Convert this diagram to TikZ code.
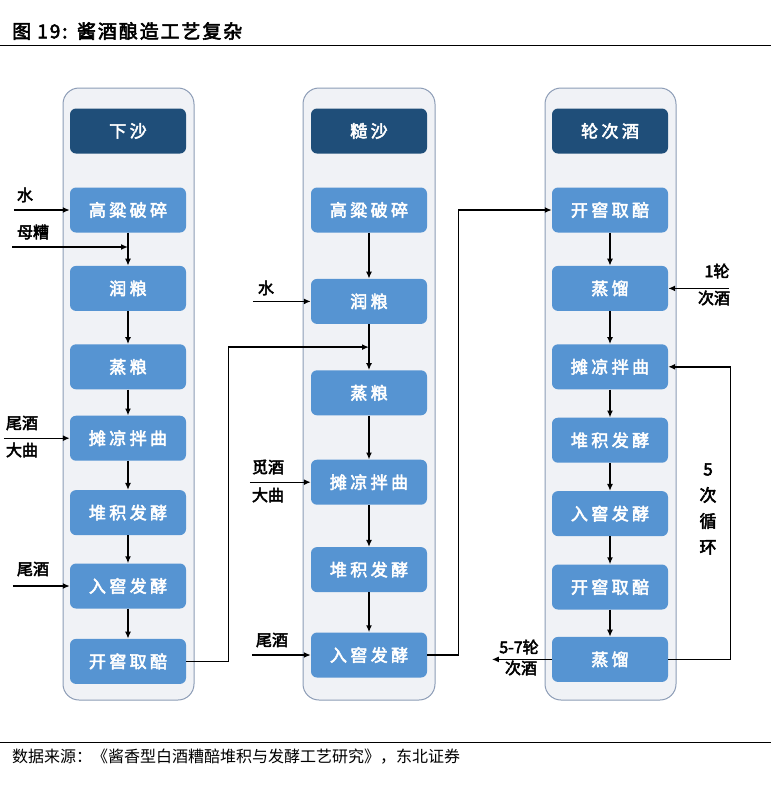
\documentclass[tikz,border=0pt]{standalone}
\usepackage{fontspec}
\usepackage{tikz}
\usetikzlibrary{arrows.meta, positioning, calc}

\newfontfamily\cjk{Noto Sans CJK SC}
\newfontfamily\cjkbold{Noto Sans CJK SC}[FakeBold=3]
\newfontfamily\cjktitle{Noto Sans CJK SC}[FakeBold=3,LetterSpace=10]
\newfontfamily\cjkbox{Noto Sans CJK SC}[FakeBold=3,LetterSpace=20]

\definecolor{colbg}{RGB}{240,242,246}
\definecolor{colline}{RGB}{140,156,182}
\definecolor{hdrblue}{RGB}{31,78,121}
\definecolor{stepblue}{RGB}{86,148,210}

\begin{document}
\begin{tikzpicture}[
    x=1pt, y=-1pt,
    >={Latex[length=7pt,width=6pt]},
    column/.style={draw=colline, fill=colbg, line width=1pt, rounded corners=16pt},
    header/.style={
        rectangle, rounded corners=6pt, fill=hdrblue, inner sep=0pt,
        minimum width=116pt, minimum height=45pt, align=center,
        text=white, font=\cjkbox\fontsize{17}{20}\selectfont
    },
    stepbox/.style={
        rectangle, rounded corners=6pt, fill=stepblue, inner sep=0pt,
        minimum width=116pt, minimum height=45pt, align=center,
        text=white, font=\cjkbox\fontsize{17}{20}\selectfont
    },
    arrow/.style={->, line width=1.4pt, black},
    inlabel/.style={font=\cjkbold\fontsize{16}{18}\selectfont, inner sep=0pt, align=center},
]
\useasboundingbox (0,0) rectangle (771,788);

% Title and rules
\node[anchor=west, font=\cjktitle\fontsize{19}{21}\selectfont, inner sep=0pt] (title) at (12,31) {图 19:\enspace 酱酒酿造工艺复杂};
\draw[line width=1pt] (0,45) -- (771,45);
\draw[line width=0.8pt] (0,742) -- (771,742);
\node[anchor=west, font=\cjk\fontsize{16}{18}\selectfont, inner sep=0pt] (source) at (12,757) {数据来源：《酱香型白酒糟醅堆积与发酵工艺研究》，东北证券};

% Column backgrounds
\draw[column] (63,88) rectangle (194,700);
\draw[column] (303,88) rectangle (435,700);
\draw[column] (545,88) rectangle (676,700);

% Column 1: 下沙
\node[header] (hdr1) at (128,131) {下沙};
\node[stepbox] (a1) at (128,210) {高粱破碎};
\node[stepbox, below=33pt of a1] (a2) {润粮};
\node[stepbox, below=33pt of a2] (a3) {蒸粮};
\node[stepbox, below=26pt of a3] (a4) {摊凉拌曲};
\node[stepbox, below=29pt of a4] (a5) {堆积发酵};
\node[stepbox, below=28pt of a5] (a6) {入窖发酵};
\node[stepbox, below=30pt of a6] (a7) {开窖取醅};

% Column 2: 糙沙
\node[header] (hdr2) at (369,131) {糙沙};
\node[stepbox] (b1) at (369,210) {高粱破碎};
\node[stepbox, below=46pt of b1] (b2) {润粮};
\node[stepbox, below=46pt of b2] (b3) {蒸粮};
\node[stepbox, below=44pt of b3] (b4) {摊凉拌曲};
\node[stepbox, below=42pt of b4] (b5) {堆积发酵};
\node[stepbox, below=40pt of b5] (b6) {入窖发酵};

% Column 3: 轮次酒
\node[header] (hdr3) at (610,131) {轮次酒};
\node[stepbox] (c1) at (610,210) {开窖取醅};
\node[stepbox, below=33pt of c1] (c2) {蒸馏};
\node[stepbox, below=33pt of c2] (c3) {摊凉拌曲};
\node[stepbox, below=28pt of c3] (c4) {堆积发酵};
\node[stepbox, below=28pt of c4] (c5) {入窖发酵};
\node[stepbox, below=28pt of c5] (c6) {开窖取醅};
\node[stepbox, below=27pt of c6] (c7) {蒸馏};

% Arrows inside the columns
\foreach \u/\v in {a1/a2, a2/a3, a3/a4, a4/a5, a5/a6, a6/a7,
                   b1/b2, b2/b3, b3/b4, b4/b5, b5/b6,
                   c1/c2, c2/c3, c3/c4, c4/c5, c5/c6, c6/c7}
    \draw[arrow] (\u) -- (\v);

% Inputs of column 1
\coordinate[left=56pt of a1.west] (w1);
\node[inlabel] (lw1) at (25,195) {水};
\draw[arrow] (w1) -- (a1.west);
\coordinate (m1) at (12,247);
\node[inlabel] (lm1) at (33,232) {母糟};
\draw[arrow] (m1) -- (m1 -| a1.center);
\coordinate[left=66pt of a4.west] (t1);
\node[inlabel] (lt1) at (22,423) {尾酒};
\node[inlabel] (ld1) at (22,450) {大曲};
\draw[arrow] (t1) -- (a4.west);
\coordinate[left=57pt of a6.west] (t2);
\node[inlabel] (lt2) at (33,569) {尾酒};
\draw[arrow] (t2) -- (a6.west);

% Column 1 to column 2
\coordinate (j1) at ($(b2.south)!0.5!(b3.north)$);
\draw[arrow] (a7.east) -- ++(42,0) |- (j1);

% Inputs of column 2
\coordinate[left=58pt of b2.west] (w2);
\node[inlabel] (lw2) at (266,288) {水};
\draw[arrow] (w2) -- (b2.west);
\coordinate[left=61pt of b4.west] (k2);
\node[inlabel] (lk2) at (268,467) {觅酒};
\node[inlabel] (ld2) at (268,495) {大曲};
\draw[arrow] (k2) -- (b4.west);
\coordinate[left=59pt of b6.west] (t3);
\node[inlabel] (lt3) at (272,640) {尾酒};
\draw[arrow] (t3) -- (b6.west);

% Column 2 to column 3
\draw[arrow] (b6.east) -- ++(31,0) |- (c1.west);

% Column 3 input, loop and output
\coordinate[right=61pt of c2.east] (r1);
\node[inlabel] (lr1) at (717,271) {1轮};
\node[inlabel] (lr2) at (714,298) {次酒};
\draw[arrow] (r1) -- (c2.east);
\draw[arrow] (c7.east) -- ++(62,0) |- (c3.east);
\node[inlabel, font=\cjkbold\fontsize{17}{26}\selectfont] (loop) at (708,509) {5\\次\\循\\环};
\coordinate[left=60pt of c7.west] (o1);
\draw[arrow] (c7.west) -- (o1);
\node[inlabel] (lo1) at (519,647) {5-7轮};
\node[inlabel] (lo2) at (521,668) {次酒};

\end{tikzpicture}
\end{document}
